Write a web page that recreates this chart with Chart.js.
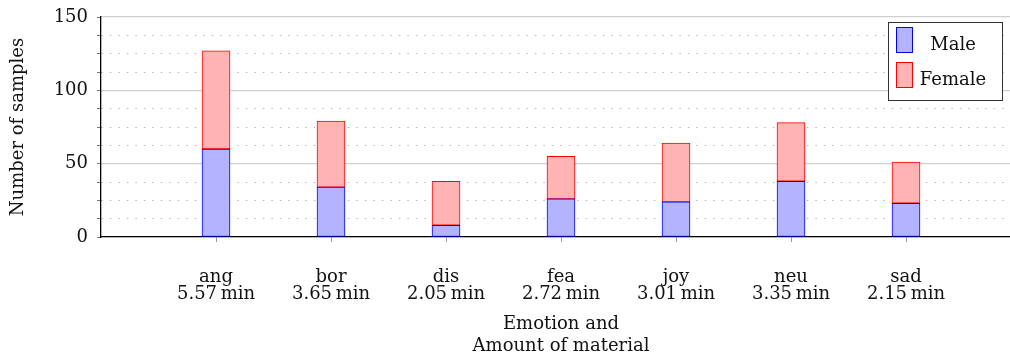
<!DOCTYPE html>
<html>
<head>
<meta charset="utf-8">
<script src="https://cdn.jsdelivr.net/npm/chart.js@4.4.1/dist/chart.umd.min.js"></script>
<style>
  body { margin: 0; overflow: hidden; background: #fff; }
</style>
</head>
<body>
<canvas id="myChart1" width="1030" height="358"></canvas>
<script>
// categories and per-category amount of material
const emotions = ['ang', 'bor', 'dis', 'fea', 'joy', 'neu', 'sad'];
const minutes = ['5.57', '3.65', '2.05', '2.72', '3.01', '3.35', '2.15'];
// samples per gender (stacked)
const male = [60, 34, 8, 26, 24, 38, 23];
const female = [67, 45, 30, 29, 40, 40, 28];

const serif = '"DejaVu Serif", serif';
const textColor = '#111';

// legend with a frame, drawn inside the plot (top right)
const boxLegend = {
  id: 'boxLegend',
  afterDraw(chart) {
    const ctx = chart.ctx;
    const area = chart.chartArea;
    const w = 114, h = 78;
    const x = Math.round(area.right - 19 - w), y = Math.round(area.top + 5);
    ctx.save();
    ctx.fillStyle = '#fff';
    ctx.fillRect(x, y, w, h);
    ctx.strokeStyle = '#333';
    ctx.lineWidth = 1;
    ctx.strokeRect(x + 0.5, y + 0.5, w, h);
    chart.data.datasets.forEach((ds, i) => {
      const sy = y + 5 + i * 35;
      ctx.fillStyle = ds.backgroundColor;
      ctx.fillRect(x + 8, sy, 17, 26);
      ctx.strokeStyle = ds.borderColor;
      ctx.strokeRect(x + 8.5, sy + 0.5, 16, 25);
      ctx.fillStyle = textColor;
      ctx.font = '18px ' + serif;
      ctx.textAlign = 'center';
      ctx.textBaseline = 'alphabetic';
      ctx.fillText(ds.label, x + 65, sy + 23);
    });
    ctx.restore();
  }
};

const ctx = document.getElementById('myChart1').getContext('2d');
const myChart = new Chart(ctx, {
  type: 'bar',
  data: {
    datasets: [
      {
        label: 'Male',
        data: male.map((v, i) => ({ x: i, y: v })),
        backgroundColor: '#b3b3ff',
        borderColor: '#0000ff',
        borderWidth: 1,
        borderSkipped: false,
        barThickness: 28
      },
      {
        label: 'Female',
        data: female.map((v, i) => ({ x: i, y: v })),
        backgroundColor: '#ffb3b3',
        borderColor: '#ff0000',
        borderWidth: 1,
        borderSkipped: false,
        barThickness: 28
      }
    ]
  },
  options: {
    responsive: false,
    animation: false,
    layout: { padding: { left: 0, top: 17, right: 9, bottom: 0 } },
    plugins: {
      legend: { display: false },
      tooltip: { enabled: false }
    },
    scales: {
      x: {
        type: 'linear',
        stacked: true,
        offset: false,
        min: -1,
        max: 7,
        afterBuildTicks: (scale) => {
          scale.ticks = emotions.map((e, i) => ({ value: i }));
        },
        afterFit: (scale) => { scale.height = 121; },
        grid: {
          offset: false,
          drawOnChartArea: false,
          drawTicks: true,
          tickLength: 5,
          tickColor: '#999'
        },
        border: { display: true, color: '#000', width: 1.3 },
        ticks: {
          autoSkip: false,
          maxRotation: 0,
          padding: 27,
          color: textColor,
          font: { family: serif, size: 18, lineHeight: 0.92 },
          callback: (v) => [emotions[v], minutes[v] + '\u2009min']
        },
        title: {
          display: true,
          text: ['Emotion and', 'Amount of material'],
          color: textColor,
          font: { family: serif, size: 18, lineHeight: 1.2 },
          padding: { top: 0, bottom: 1 }
        }
      },
      y: {
        stacked: true,
        position: 'left',
        min: 0,
        max: 150,
        afterFit: (scale) => {
          scale.width = 101;
          scale.paddingTop = 0;
          scale.paddingBottom = 0;
        },
        ticks: {
          stepSize: 12.5,
          autoSkip: false,
          maxTicksLimit: 20,
          padding: 9,
          color: textColor,
          font: { family: serif, size: 18 },
          callback: (v) => (v % 50 === 0 ? v : '')
        },
        grid: {
          color: (c) => (c.tick && c.tick.value % 50 === 0 ? 'rgba(0,0,0,0)' : '#b8b8b8'),
          lineWidth: 1,
          tickLength: 4,
          tickColor: '#777'
        },
        border: { display: true, color: '#000', width: 1.3, dash: [1.5, 7] },
        title: {
          display: true,
          text: 'Number of samples',
          color: textColor,
          font: { family: serif, size: 18 },
          padding: { top: 8, bottom: 0 }
        }
      },
      yMajor: {
        position: 'left',
        min: 0,
        max: 150,
        ticks: { display: false, stepSize: 50 },
        grid: { color: '#cfcfcf', lineWidth: 1.3, drawTicks: false },
        border: { display: false }
      }
    }
  },
  plugins: [boxLegend]
});
</script>
</body>
</html>
